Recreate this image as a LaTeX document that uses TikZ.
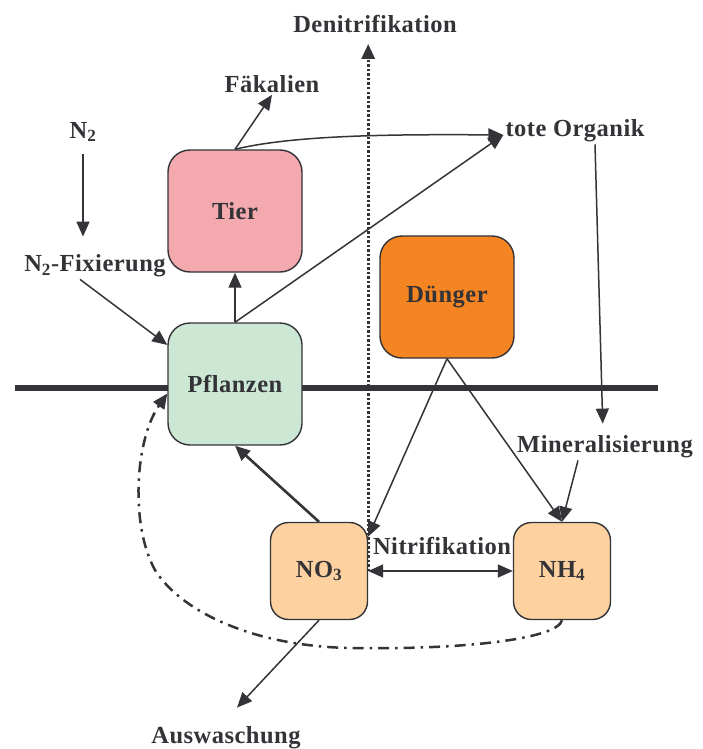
\documentclass[tikz,border=0pt]{standalone}
\usepackage{fontspec}
\setmainfont[LetterSpace=2]{Liberation Serif}
\usetikzlibrary{arrows.meta}
\definecolor{ink}{HTML}{333338}
\definecolor{tierfill}{HTML}{F4A9AE}
\definecolor{pflfill}{HTML}{CDE7D5}
\definecolor{dungfill}{HTML}{F58422}
\definecolor{nfill}{HTML}{FDD1A0}
\tikzset{
  box/.style={draw=ink, line width=1.4pt, rounded corners=22pt,
    minimum width=134pt, minimum height=122pt, text=ink,
    font=\bfseries\fontsize{24.5}{28}\selectfont},
  smallbox/.style={box, fill=nfill, minimum width=97pt, minimum height=97pt,
    rounded corners=18pt},
  lbl/.style={text=ink, inner sep=2pt, font=\bfseries\fontsize{24.5}{28}\selectfont},
  flow/.style={draw=ink, line width=1.5pt, -{Triangle[length=15pt,width=13pt]}},
  both/.style={flow, {Triangle[length=15pt,width=13pt]}-{Triangle[length=15pt,width=13pt]}},
}
\begin{document}
\begin{tikzpicture}[x=1pt,y=-1pt]
    \useasboundingbox (0,0) rectangle (703,749);
    \draw[ink, line width=6pt] (15,388) -- (658,388);
    \node[box, fill=tierfill] (tier) at (235,211) {Tier};
    \node[box, fill=pflfill] (pfl) at (235,384) {Pflanzen};
    \node[box, fill=dungfill] (dung) at (447,297) {Dünger};
    \node[smallbox] (no3) at (319,571) {NO\textsubscript{3}};
    \node[smallbox] (nh4) at (562,571) {NH\textsubscript{4}};
    \node[lbl] (denit) at (375,24) {Denitrifikation};
    \node[lbl] (fak) at (272,84) {Fäkalien};
    \node[lbl] (n2) at (83,132) {N\textsubscript{2}};
    \node[lbl] (tote) at (575,131) {tote Organik};
    \node[lbl] (fix) at (95,266) {N\textsubscript{2}-Fixierung};
    \node[lbl] (min) at (605,447) {Mineralisierung};
    \node[lbl] (nitri) at (442,546) {Nitrifikation};
    \node[lbl] (ausw) at (226,738) {Auswaschung};
    \draw[flow] (tier.north) -- (fak.south);
    \draw[flow] (tier.north) .. controls (290,136) and (380,134) .. ([yshift=-4pt]tote.west);
    \draw[flow] (pfl.north) -- ([yshift=-4pt]tote.west);
    \draw[flow] (pfl.north) -- (tier.south);
    \draw[flow, shorten <=10pt, shorten >=16pt] (n2.south) -- (n2.south |- fix.north);
    \draw[flow] ([xshift=-15pt]fix.south) -- (pfl.150);
    \draw[flow, shorten >=10pt] ([xshift=20pt]tote.south) -- ([xshift=-2pt]min.north);
    \draw[flow] ([xshift=-27pt]min.south) -- (nh4.north);
    \draw[flow] (dung.south) -- (no3.35);
    \draw[flow] (dung.south) -- (nh4.north);
    \draw[both] (no3.east) -- (nh4.west);
    \draw[flow, line width=2.6pt] (no3.north) -- (pfl.south);
    \draw[flow] (no3.south) -- ([xshift=11pt,yshift=17pt]ausw.north);
    % Denitrifikation
    \draw[flow, line width=3pt, dash pattern=on 2.5pt off 2pt, shorten >=9pt]
        (no3.east) -- (no3.east |- denit.south);
    % Rueckfuehrung NH4 -> Pflanzen
    \draw[flow, line width=2.5pt, dash pattern=on 11pt off 6pt on 2.5pt off 6pt]
        (nh4.south) .. controls (558,638) and (470,650) .. (350,648)
        .. controls (250,646) and (180,610) .. (155,570)
        .. controls (130,525) and (135,440) .. (pfl.188);
\end{tikzpicture}
\end{document}
